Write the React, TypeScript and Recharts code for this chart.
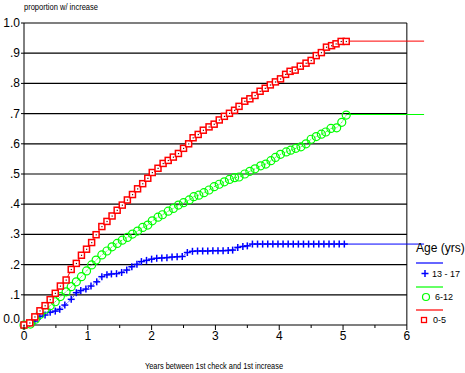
import React from 'react';
import { LineChart, Line, XAxis, YAxis, ReferenceLine } from 'recharts';

// age 13 - 17
const bluePts: [number, number][] = [
  [0, 0], [0.09, 0.006], [0.17, 0.013], [0.25, 0.028], [0.33, 0.033], [0.41, 0.042], [0.49, 0.046],
  [0.56, 0.052], [0.64, 0.066], [0.74, 0.085], [0.82, 0.107], [0.89, 0.114], [0.97, 0.119], [1.05, 0.129],
  [1.14, 0.143], [1.22, 0.16], [1.3, 0.166], [1.37, 0.169], [1.45, 0.17], [1.53, 0.174], [1.61, 0.182],
  [1.69, 0.193], [1.77, 0.201], [1.84, 0.21], [1.92, 0.214], [2.0, 0.218], [2.08, 0.221], [2.16, 0.222],
  [2.24, 0.223], [2.32, 0.225], [2.4, 0.226], [2.48, 0.227], [2.56, 0.24], [2.64, 0.244], [2.72, 0.245],
  [2.8, 0.245], [2.88, 0.245], [2.96, 0.246], [3.04, 0.246], [3.12, 0.246], [3.2, 0.247], [3.27, 0.248],
  [3.35, 0.257], [3.43, 0.26], [3.5, 0.262], [3.58, 0.268], [3.66, 0.268], [3.74, 0.268], [3.82, 0.268],
  [3.9, 0.268], [3.98, 0.268], [4.06, 0.268], [4.14, 0.268], [4.22, 0.268], [4.3, 0.268], [4.38, 0.268],
  [4.46, 0.268], [4.54, 0.268], [4.62, 0.268], [4.7, 0.268], [4.78, 0.268], [4.86, 0.268], [4.94, 0.268],
  [5.02, 0.268],
];
const blueTail: [number, number][] = [[5.02, 0.268], [6.27, 0.268]];

// age 6-12
const greenPts: [number, number][] = [
  [0, 0], [0.1, 0.003], [0.18, 0.019], [0.25, 0.035], [0.33, 0.052], [0.41, 0.064], [0.49, 0.077],
  [0.57, 0.094], [0.66, 0.11], [0.74, 0.127], [0.82, 0.143], [0.9, 0.16], [0.98, 0.179], [1.06, 0.199],
  [1.13, 0.215], [1.22, 0.232], [1.3, 0.245], [1.38, 0.259], [1.46, 0.27], [1.54, 0.281], [1.62, 0.29],
  [1.7, 0.301], [1.78, 0.311], [1.86, 0.323], [1.94, 0.331], [2.01, 0.345], [2.1, 0.357], [2.17, 0.365],
  [2.26, 0.377], [2.34, 0.386], [2.42, 0.397], [2.5, 0.405], [2.59, 0.414], [2.66, 0.425], [2.74, 0.43],
  [2.82, 0.438], [2.9, 0.447], [2.98, 0.458], [3.06, 0.466], [3.14, 0.474], [3.22, 0.482], [3.3, 0.488],
  [3.37, 0.49], [3.46, 0.5], [3.54, 0.509], [3.62, 0.517], [3.71, 0.527], [3.79, 0.533], [3.87, 0.544],
  [3.94, 0.555], [4.02, 0.565], [4.11, 0.573], [4.18, 0.579], [4.26, 0.585], [4.34, 0.59], [4.42, 0.6],
  [4.5, 0.615], [4.58, 0.624], [4.66, 0.632], [4.73, 0.639], [4.81, 0.651], [4.9, 0.653], [4.98, 0.671],
  [5.05, 0.695],
];
const greenTail: [number, number][] = [[5.05, 0.697], [6.27, 0.697]];

// age 0-5
const redPts: [number, number][] = [
  [0, 0], [0.09, 0.007], [0.17, 0.027], [0.25, 0.047], [0.33, 0.064], [0.41, 0.084], [0.49, 0.105],
  [0.57, 0.129], [0.66, 0.149], [0.74, 0.184], [0.82, 0.204], [0.9, 0.231], [0.98, 0.251], [1.06, 0.273],
  [1.13, 0.299], [1.22, 0.326], [1.3, 0.343], [1.38, 0.361], [1.46, 0.38], [1.54, 0.397], [1.62, 0.414],
  [1.7, 0.432], [1.78, 0.451], [1.86, 0.468], [1.94, 0.486], [2.01, 0.505], [2.1, 0.519], [2.18, 0.535],
  [2.26, 0.545], [2.34, 0.556], [2.42, 0.568], [2.5, 0.585], [2.58, 0.6], [2.65, 0.62], [2.73, 0.631],
  [2.81, 0.645], [2.9, 0.656], [2.98, 0.665], [3.06, 0.679], [3.14, 0.691], [3.22, 0.701], [3.3, 0.711],
  [3.37, 0.724], [3.46, 0.741], [3.54, 0.749], [3.62, 0.76], [3.7, 0.774], [3.78, 0.784], [3.86, 0.795],
  [3.94, 0.805], [4.02, 0.815], [4.1, 0.83], [4.17, 0.84], [4.25, 0.844], [4.33, 0.857], [4.42, 0.867],
  [4.5, 0.876], [4.58, 0.892], [4.66, 0.902], [4.74, 0.92], [4.82, 0.925], [4.89, 0.931], [4.97, 0.939],
  [5.05, 0.939],
];
const redTail: [number, number][] = [[5.05, 0.94], [6.27, 0.94]];

const xTicks = [0, 0.5, 1, 1.5, 2, 2.5, 3, 3.5, 4, 4.5, 5, 5.5, 6];
const yTicks = [0, 0.1, 0.2, 0.3, 0.4, 0.5, 0.6, 0.7, 0.8, 0.9, 1.0];
const legendItems = ['13 - 17', '6-12', '0-5'];

const BLUE = '#0000ff';
const GREEN = '#00ff00';
const RED = '#ff0000';
const FONT = '"Liberation Sans", Arial, sans-serif';

const toRows = (pts: [number, number][]) => pts.map(([x, y]) => ({ x, y }));

const PlusDot = (props: any) => {
  const { cx, cy, key } = props;
  if (cx == null || cy == null) return <g key={key} />;
  return (
    <g key={key}>
      <line x1={cx - 3.5} x2={cx + 3.5} y1={cy} y2={cy} stroke={BLUE} strokeWidth={1.5} />
      <line x1={cx} x2={cx} y1={cy - 3.5} y2={cy + 3.5} stroke={BLUE} strokeWidth={1.5} />
    </g>
  );
};

const CircleDot = (props: any) => {
  const { cx, cy, key } = props;
  if (cx == null || cy == null) return <g key={key} />;
  return <circle key={key} cx={cx} cy={cy} r={4} fill="none" stroke={GREEN} strokeWidth={1.2} />;
};

const SquareDot = (props: any) => {
  const { cx, cy, key } = props;
  if (cx == null || cy == null) return <g key={key} />;
  return (
    <g key={key}>
      <rect x={cx - 3} y={cy - 3} width={6} height={6} fill="#fff" stroke={RED} strokeWidth={1.5} />
      <rect x={cx - 0.5} y={cy - 0.5} width={1.2} height={1.2} fill="#600" />
    </g>
  );
};

const XTick = (props: any) => {
  const { x, y, payload } = props;
  const v = payload.value;
  const major = Number.isInteger(v);
  return (
    <g>
      <line x1={x} x2={x} y1={y} y2={y + (major ? 5 : 3)} stroke="#000" />
      {major && (
        <text x={x} y={y + 15} textAnchor="middle" fontSize={12} fontFamily={FONT} fill="#000">
          {v}
        </text>
      )}
    </g>
  );
};

const YTick = (props: any) => {
  const { x, y, payload } = props;
  const v = payload.value;
  const label = v === 0 ? '0.0' : v === 1 ? '1.0' : '.' + Math.round(v * 10);
  return (
    <text x={x} y={y + 4 - (v === 0 ? 6 : 0)} textAnchor="end" fontSize={12} fontFamily={FONT} fill="#000">
      {label}
    </text>
  );
};

export default function App() {
  return (
    <div style={{ position: 'absolute', left: 0, top: 0, width: 465, height: 373, background: '#fff' }}>
      <LineChart width={465} height={373} margin={{ top: 23, right: 39, left: 0, bottom: 0 }}>
        <XAxis
          type="number"
          dataKey="x"
          domain={[0, 6.3]}
          ticks={xTicks}
          interval={0}
          axisLine={false}
          tickLine={false}
          tickSize={0}
          tickMargin={0}
          height={48}
          tick={<XTick />}
        />
        <YAxis
          type="number"
          dataKey="y"
          domain={[0, 1]}
          ticks={yTicks}
          interval={0}
          width={24}
          tickSize={3}
          tickMargin={1}
          axisLine={{ stroke: '#000' }}
          tickLine={{ stroke: '#000' }}
          tick={<YTick />}
        />
        {yTicks.map((v) => (
          <ReferenceLine key={'g' + v} segment={[{ x: 0, y: v }, { x: 6, y: v }]} stroke="#000" strokeWidth={1.2} />
        ))}
        <ReferenceLine segment={[{ x: 6, y: 0 }, { x: 6, y: 1 }]} stroke="#000" />
        <Line data={toRows(blueTail)} dataKey="y" stroke={BLUE} strokeWidth={1} dot={false} isAnimationActive={false} />
        <Line data={toRows(greenTail)} dataKey="y" stroke={GREEN} strokeWidth={1} dot={false} isAnimationActive={false} />
        <Line data={toRows(redTail)} dataKey="y" stroke={RED} strokeWidth={1} dot={false} isAnimationActive={false} />
        <Line
          data={toRows(bluePts)}
          dataKey="y"
          stroke={BLUE}
          strokeWidth={1}
          strokeDasharray="1 1"
          dot={PlusDot}
          activeDot={false}
          isAnimationActive={false}
        />
        <Line
          data={toRows(greenPts)}
          dataKey="y"
          stroke={GREEN}
          strokeWidth={1}
          strokeDasharray="1 1"
          dot={CircleDot}
          activeDot={false}
          isAnimationActive={false}
        />
        <Line
          data={toRows(redPts)}
          dataKey="y"
          stroke={RED}
          strokeWidth={1}
          dot={SquareDot}
          activeDot={false}
          isAnimationActive={false}
        />
      </LineChart>
      <svg
        width={465}
        height={373}
        style={{ position: 'absolute', left: 0, top: 0, pointerEvents: 'none' }}
        fontFamily={FONT}
      >
        <text x={24} y={10} fontSize={9} textLength={74} lengthAdjust="spacingAndGlyphs">
          proportion w/ increase
        </text>
        <text x={145} y={369} fontSize={9} textLength={138} lengthAdjust="spacingAndGlyphs">
          Years between 1st check and 1st increase
        </text>
        <text x={416} y={252} fontSize={12}>Age (yrs)</text>
        <line x1={416} x2={443} y1={263} y2={263} stroke={BLUE} strokeWidth={1.2} />
        <line x1={421.5} x2={428.5} y1={273.5} y2={273.5} stroke={BLUE} strokeWidth={1.5} />
        <line x1={425} x2={425} y1={270} y2={277} stroke={BLUE} strokeWidth={1.5} />
        <text x={432} y={277} fontSize={9}>{legendItems[0]}</text>
        <line x1={416} x2={443} y1={287} y2={287} stroke={GREEN} strokeWidth={1.2} />
        <circle cx={426} cy={297} r={3.5} fill="none" stroke={GREEN} strokeWidth={1.2} />
        <text x={435} y={300} fontSize={9}>{legendItems[1]}</text>
        <line x1={416} x2={443} y1={310} y2={310} stroke={RED} strokeWidth={1.2} />
        <rect x={421.5} y={317.5} width={5} height={5} fill="none" stroke={RED} strokeWidth={1.3} />
        <text x={433} y={323} fontSize={9}>{legendItems[2]}</text>
      </svg>
    </div>
  );
}
